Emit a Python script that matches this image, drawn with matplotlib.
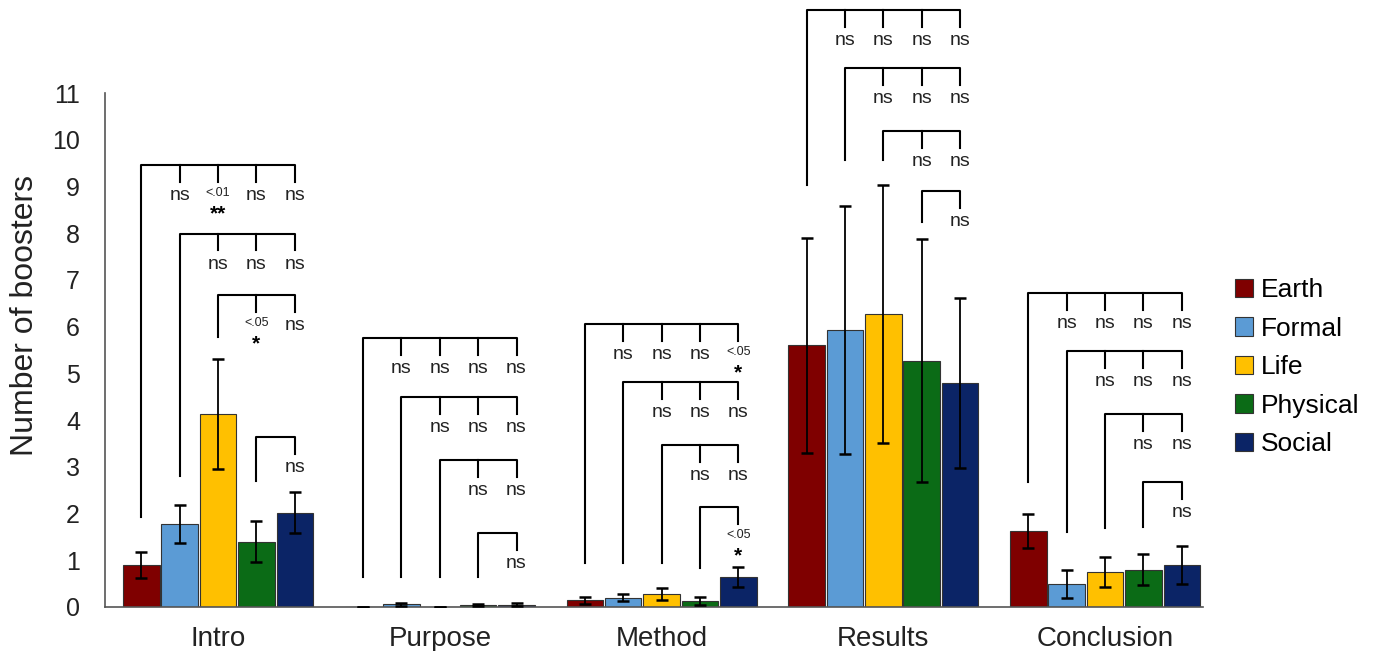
import matplotlib.pyplot as plt
import numpy as np

plt.rcParams['font.family'] = ['Liberation Sans', 'DejaVu Sans']

sections = ["Intro", "Purpose", "Method", "Results", "Conclusion"]
fields = ["Earth", "Formal", "Life", "Physical", "Social"]
colors = ["#7f0000", "#5b9bd5", "#ffc000", "#0b6b16", "#0b2466"]

# mean number of boosters, rows = section, columns = field
means = [
    [0.90, 1.78, 4.13, 1.40, 2.02],
    [0.01, 0.06, 0.01, 0.05, 0.05],
    [0.14, 0.20, 0.28, 0.13, 0.64],
    [5.60, 5.93, 6.28, 5.27, 4.80],
    [1.63, 0.50, 0.75, 0.80, 0.90],
]
errors = [
    [0.27, 0.40, 1.18, 0.43, 0.44],
    [0.00, 0.03, 0.00, 0.02, 0.03],
    [0.08, 0.08, 0.12, 0.08, 0.21],
    [2.30, 2.65, 2.76, 2.60, 1.82],
    [0.37, 0.30, 0.33, 0.33, 0.40],
]

# comparison brackets: bracket k links field k with every later field
bracket_tops = [
    [9.46, 7.99, 6.68, 3.64],
    [5.76, 4.50, 3.15, 1.58],
    [6.06, 4.82, 3.47, 2.14],
    [12.78, 11.54, 10.19, 8.91],
    [6.72, 5.48, 4.13, 2.68],
]
bracket_legs = [
    [1.93, 2.80, 5.78, 2.70],
    [0.64, 0.64, 0.64, 0.64],
    [0.94, 0.94, 0.94, 0.84],
    [9.04, 9.57, 9.57, 8.24],
    [2.68, 1.60, 1.69, 1.71],
]
# significant results: (section, bracket, field) -> (p label, stars)
signif = {
    (0, 0, 2): ("<.01", "**"),
    (0, 2, 3): ("<.05", "*"),
    (2, 0, 4): ("<.05", "*"),
    (2, 3, 4): ("<.05", "*"),
}

fig = plt.figure(figsize=(13.76, 6.51), dpi=100)
ax = fig.add_axes([0.0763, 0.0676, 0.7977, 0.7895])

w = 0.173
for j, f in enumerate(fields):
    xs = np.arange(len(sections)) + (j - 2) * w
    ys = [row[j] for row in means]
    es = [row[j] for row in errors]
    ax.bar(xs, ys, width=w * 0.95, color=colors[j], edgecolor="#333333",
           linewidth=0.8, label=f, zorder=2)
    ax.errorbar(xs, ys, yerr=es, fmt="none", ecolor="black", elinewidth=1.3,
                capsize=4, capthick=1.8, zorder=3)

tick = 0.36
for g in range(len(sections)):
    bx = g + (np.arange(5) - 2) * w
    for k in range(4):
        top = bracket_tops[g][k]
        leg = bracket_legs[g][k]
        ax.plot([bx[k], bx[k], bx[4], bx[4]], [leg, top, top, top - tick],
                color="black", lw=1.5, clip_on=False, zorder=4)
        for m in range(k + 1, 5):
            if m < 4:
                ax.plot([bx[m], bx[m]], [top, top - tick], color="black",
                        lw=1.5, clip_on=False, zorder=4)
            if (g, k, m) in signif:
                p, st = signif[(g, k, m)]
                ax.text(bx[m], top - 0.6, p, ha="center", va="center",
                        fontsize=9, color="#222222", clip_on=False)
                ax.text(bx[m], top - 1.05, st, ha="center", va="center",
                        fontsize=15, fontweight="bold", clip_on=False)
            else:
                ax.text(bx[m], top - 0.65, "ns", ha="center", va="center",
                        fontsize=14, color="#222222", clip_on=False)

ax.set_xlim(-0.51, 4.44)
ax.set_ylim(0, 11)
ax.set_yticks(range(0, 12))
ax.set_xticks(range(len(sections)))
ax.set_xticklabels(sections)
ax.tick_params(axis="both", length=0, colors="#222222")
ax.tick_params(axis="y", pad=18, labelsize=18)
ax.tick_params(axis="x", pad=14, labelsize=20)
for s in ["top", "right"]:
    ax.spines[s].set_visible(False)
for s in ["left", "bottom"]:
    ax.spines[s].set_color("#555555")
    ax.spines[s].set_linewidth(1.2)
ax.set_ylabel("Number of boosters", fontsize=23, color="#222222")
ax.yaxis.set_label_coords(-0.059, 0.568)

fig.legend(loc="center left", bbox_to_anchor=(0.880, 0.436), frameon=False,
           fontsize=19, handlelength=0.7, handleheight=0.7, handletextpad=0.3,
           labelspacing=0.55)

fig.savefig("out.png", dpi=100)
